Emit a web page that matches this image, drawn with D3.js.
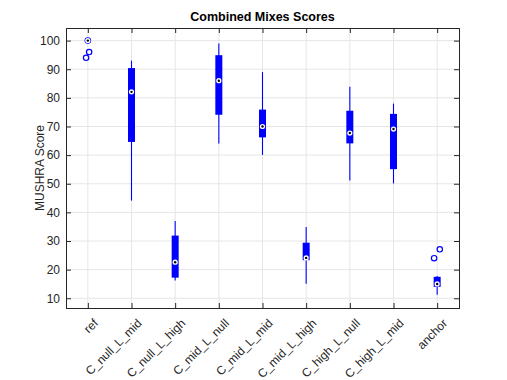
<!DOCTYPE html>
<html>
<head>
<meta charset="utf-8">
<script src="https://cdn.jsdelivr.net/npm/d3@7"></script>
<style>
  body { margin: 0; background: #fff; }
  svg { font-family: "Liberation Sans", Arial, sans-serif; }
</style>
</head>
<body>
<svg id="chart"></svg>
<script>
const width = 507;
const height = 380;

// categories and box statistics
const categories = ["ref", "C_null_L_mid", "C_null_L_high", "C_mid_L_null", "C_mid_L_mid",
  "C_mid_L_high", "C_high_L_null", "C_high_L_mid", "anchor"];
const whiskerLow  = [100, 44.1, 16.2, 64.1, 60.1, 15.1, 51.1, 50.1, 11.2];
const q1          = [100, 64.6, 17.2, 74.1, 66.2, 23.3, 64.1, 55.1, 14.0];
const medians     = [100, 82.1, 22.6, 86.0, 70.0, 24.1, 67.7, 69.1, 15.0];
const q3          = [100, 90.4, 31.9, 94.9, 75.9, 29.4, 75.5, 74.4, 17.5];
const whiskerHigh = [100, 93.0, 37.0, 99.0, 89.0, 34.9, 83.9, 78.0, 17.8];
// outliers: [category index, value, jitter in category units]
const outliers = [[0, 100, 0], [0, 96, 0.03], [0, 94, -0.04], [8, 27.1, 0.06], [8, 24.0, -0.07]];
const yTicks = [10, 20, 30, 40, 50, 60, 70, 80, 90, 100];

const margin = { top: 28, right: 48, bottom: 72, left: 66 };
const iw = width - margin.left - margin.right;
const ih = height - margin.top - margin.bottom;

const svg = d3.select("#chart").attr("width", width).attr("height", height);
const g = svg.append("g").attr("transform", `translate(${margin.left},${margin.top})`);

const x = d3.scaleLinear().domain([0.5, categories.length + 0.5]).range([0, iw]);
const y = d3.scaleLinear().domain([6.6, 104.4]).range([ih, 0]);
const cx = (i) => x(i + 1);

// grid
g.append("g").selectAll("line").data(yTicks).enter().append("line")
  .attr("x1", 0).attr("x2", iw)
  .attr("y1", (d) => y(d)).attr("y2", (d) => y(d))
  .attr("stroke", "#e6e6e6").attr("stroke-width", 1);
g.append("g").selectAll("line").data(categories).enter().append("line")
  .attr("x1", (d, i) => cx(i)).attr("x2", (d, i) => cx(i))
  .attr("y1", 0).attr("y2", ih)
  .attr("stroke", "#e6e6e6").attr("stroke-width", 1);

// axes (ticks inward, box on)
const yAxis = d3.axisLeft(y).tickValues(yTicks).tickSize(-5).tickPadding(6);
const yAxisR = d3.axisRight(y).tickValues(yTicks).tickSize(-5).tickFormat("");
const xAxis = d3.axisBottom(x).tickValues(d3.range(1, categories.length + 1)).tickSize(-5).tickFormat("");
const xAxisT = d3.axisTop(x).tickValues(d3.range(1, categories.length + 1)).tickSize(-5).tickFormat("");

const ya = g.append("g").call(yAxis);
ya.selectAll("text").attr("font-size", 12).attr("fill", "#262626").attr("font-family", "Liberation Sans, Arial, sans-serif");
g.append("g").attr("transform", `translate(${iw},0)`).call(yAxisR);
g.append("g").attr("transform", `translate(0,${ih})`).call(xAxis);
g.append("g").call(xAxisT);
g.selectAll(".domain").attr("stroke", "#262626");
g.selectAll(".tick line").attr("stroke", "#262626");

// rotated category labels
g.append("g").selectAll("text").data(categories).enter().append("text")
  .attr("transform", (d, i) => `translate(${cx(i) + 5},${ih + 10}) rotate(-45)`)
  .attr("text-anchor", "end")
  .attr("dy", "0.7em")
  .attr("font-size", 12)
  .attr("fill", "#262626")
  .text((d) => d);

// whiskers
const boxes = g.append("g");
boxes.selectAll("line.whisker").data(categories).enter().append("line")
  .attr("class", "whisker")
  .attr("x1", (d, i) => cx(i)).attr("x2", (d, i) => cx(i))
  .attr("y1", (d, i) => y(whiskerLow[i])).attr("y2", (d, i) => y(whiskerHigh[i]))
  .attr("stroke", "#0000ff").attr("stroke-width", 1.1);

// boxes as thick lines (compact style)
boxes.selectAll("rect.box").data(categories).enter().append("rect")
  .attr("class", "box")
  .attr("x", (d, i) => cx(i) - 3.5)
  .attr("width", 7)
  .attr("y", (d, i) => y(q3[i]))
  .attr("height", (d, i) => y(q1[i]) - y(q3[i]))
  .attr("fill", "#0000ff");

// outliers
g.append("g").selectAll("circle").data(outliers).enter().append("circle")
  .attr("cx", (d) => x(d[0] + 1 + d[2]))
  .attr("cy", (d) => y(d[1]))
  .attr("r", 2.7)
  .attr("fill", "none")
  .attr("stroke", "#0000ff")
  .attr("stroke-width", 1.2);

// median markers
const med = g.append("g");
med.selectAll("circle.m").data(medians).enter().append("circle")
  .attr("cx", (d, i) => cx(i)).attr("cy", (d) => y(d))
  .attr("r", 2.6).attr("fill", "#fff");
med.selectAll("circle.d").data(medians).enter().append("circle")
  .attr("cx", (d, i) => cx(i)).attr("cy", (d) => y(d))
  .attr("r", 1.2).attr("fill", "#000");

// title and y label
svg.append("text")
  .attr("x", margin.left + iw / 2).attr("y", 21)
  .attr("text-anchor", "middle")
  .attr("font-size", 12.5).attr("font-weight", "bold")
  .attr("fill", "#000")
  .text("Combined Mixes Scores");

svg.append("text")
  .attr("transform", `translate(44,${margin.top + ih / 2}) rotate(-90)`)
  .attr("text-anchor", "middle")
  .attr("font-size", 12)
  .attr("fill", "#262626")
  .text("MUSHRA Score");
</script>
</body>
</html>
